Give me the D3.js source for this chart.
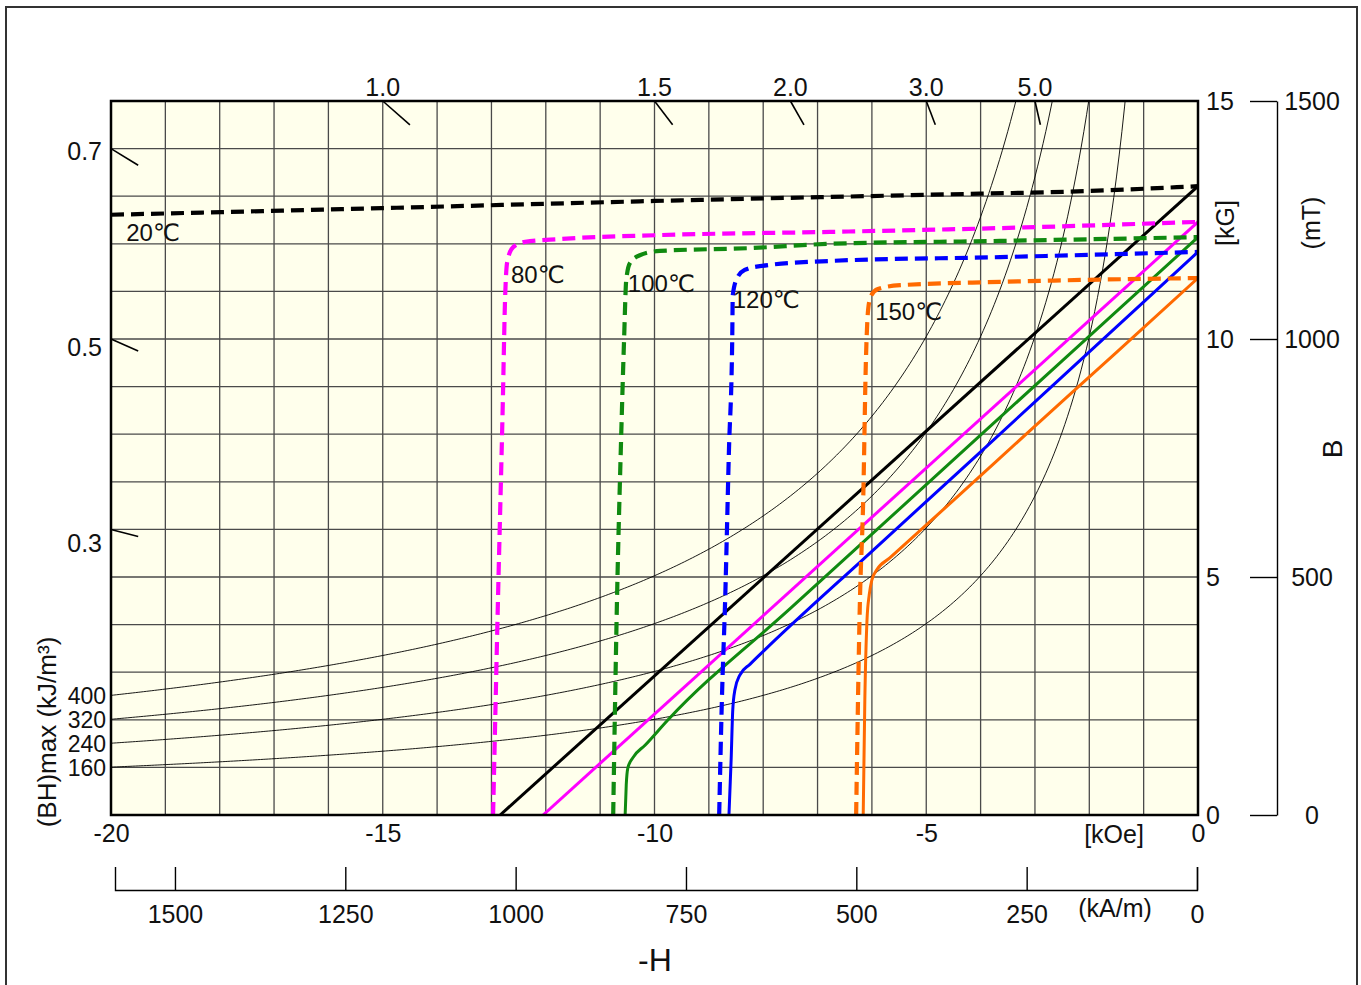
<!DOCTYPE html>
<html>
<head>
<meta charset="utf-8">
<script src="https://cdn.jsdelivr.net/npm/d3@7"></script>
<style>
body { margin: 0; background: #fff; }
text { font-family: "Liberation Sans", Arial, "DejaVu Sans", sans-serif; fill: #111; }
</style>
</head>
<body>
<svg id="chart" width="1361" height="985"></svg>
<script>
//demagnetization curves: [H (kOe), B (kG)]
var jCurve20 = [[-20, 12.61], [-15, 12.75], [-10, 12.90], [-5, 13.03], [-2, 13.11], [0, 13.21]];
var bCurve20 = [[-12.84, 0], [0, 13.21]];

var jCurve80 = [[-12.97, 0], [-12.88, 4.52], [-12.79, 8.72], [-12.75, 10.82], [-12.71, 11.62], [-12.60, 11.93],
    [-12.38, 12.04], [-11.74, 12.10], [-9.99, 12.18], [-6.77, 12.25], [-3.64, 12.33], [0, 12.46]];
var bCurve80 = [[-12.05, 0], [0, 12.46]];

var jCurve100 = [[-10.76, 0], [-10.69, 4.52], [-10.62, 7.67], [-10.56, 9.98], [-10.52, 11.24], [-10.45, 11.60],
    [-10.27, 11.76], [-9.90, 11.85], [-8.24, 11.91], [-6.77, 12.00], [-3.64, 12.06], [0, 12.14]];
var bCurve100 = [[-10.54, 0], [-10.52, 0.63], [-10.49, 0.99], [-10.40, 1.20], [-10.17, 1.47], [-9.75, 2.00],
    [-7.5, 4.34], [-5, 6.94], [-2.54, 9.50], [0, 12.14]];

var jCurve120 = [[-8.81, 0], [-8.76, 2.42], [-8.70, 4.52], [-8.63, 7.67], [-8.57, 9.98], [-8.56, 10.92], [-8.48, 11.28],
    [-8.34, 11.45], [-8.06, 11.53], [-6.77, 11.64], [-3.64, 11.72], [0, 11.83]];
var bCurve120 = [[-8.63, 0], [-8.59, 1.16], [-8.56, 2.21], [-8.52, 2.63], [-8.43, 2.94], [-8.24, 3.17], [-7.97, 3.47],
    [-6, 5.54], [-4, 7.63], [-2, 9.73], [0, 11.83]];

var jCurve150 = [[-6.29, 0], [-6.22, 4.52], [-6.16, 6.62], [-6.11, 9.56], [-6.07, 10.61], [-6.02, 10.90], [-5.89, 11.05],
    [-5.48, 11.13], [-3.64, 11.20], [0, 11.28]];
var bCurve150 = [[-6.16, 0], [-6.13, 2.42], [-6.09, 4.10], [-6.05, 4.62], [-6.00, 4.94], [-5.91, 5.15], [-5.67, 5.40],
    [-4.5, 6.61], [-3, 8.17], [-1.5, 9.72], [0, 11.28]];

var tempLabels = ["20℃", "80℃", "100℃", "120℃", "150℃"];
//where each temperature label starts [H, B]
var tempLabelAt = [[-19.72, 12.06], [-12.64, 11.18], [-10.49, 10.99], [-8.56, 10.65], [-5.94, 10.40]];

//(BH)max reference curves, kJ/m3
var bhValues = [160, 240, 320, 400];
//permeance coefficient ticks
var pcLeft = [0.7, 0.5, 0.3];
var pcTop = [1.0, 1.5, 2.0, 3.0, 5.0];

//axis tick values
var kOeTicks = [-20, -15, -10, -5, 0];
var kGTicks = [0, 5, 10, 15];
var mTTicks = [0, 500, 1000, 1500];
var kAmTicks = [1500, 1250, 1000, 750, 500, 250, 0];

var colors = ["#000000", "#ff00ff", "#108a10", "#0000ff", "#ff6a00"];
var jCurves = [jCurve20, jCurve80, jCurve100, jCurve120, jCurve150];
var bCurves = [bCurve20, bCurve80, bCurve100, bCurve120, bCurve150];

var svg = d3.select("#chart");
var fs = "25px";

//outer frame
svg.append("rect")
    .attr("x", 6).attr("y", 7).attr("width", 1351).attr("height", 1000)
    .attr("fill", "none").attr("stroke", "#333").attr("stroke-width", 2);

var x = d3.scaleLinear().domain([-20, 0]).range([111, 1198]);
var y = d3.scaleLinear().domain([0, 15]).range([815, 101]);
var yT = d3.scaleLinear().domain([0, 1500]).range([815, 101]);
var xA = d3.scaleLinear().domain([1588, 0]).range([115, 1197]);

svg.append("defs").append("clipPath").attr("id", "plotClip")
    .append("rect")
    .attr("x", x(-20)).attr("y", y(15))
    .attr("width", x(0) - x(-20)).attr("height", y(0) - y(15));

//background
svg.append("rect")
    .attr("x", x(-20)).attr("y", y(15))
    .attr("width", x(0) - x(-20)).attr("height", y(0) - y(15))
    .attr("fill", "#ffffec");

//grid
var grid = svg.append("g").attr("class", "grid");
grid.selectAll(".v").data(d3.range(-19, 0)).enter().append("line")
    .attr("x1", function(d) { return x(d); }).attr("x2", function(d) { return x(d); })
    .attr("y1", y(0)).attr("y2", y(15))
    .attr("stroke", "#4a4a4a").attr("stroke-width", 1.3);
grid.selectAll(".h").data(d3.range(1, 15)).enter().append("line")
    .attr("y1", function(d) { return y(d); }).attr("y2", function(d) { return y(d); })
    .attr("x1", x(-20)).attr("x2", x(0))
    .attr("stroke", "#4a4a4a").attr("stroke-width", 1.3);

var plot = svg.append("g").attr("clip-path", "url(#plotClip)");

//(BH)max hyperbolas: B*H = const (MGOe = kJ/m3 / 7.9577)
var hSamples = d3.range(-20, -0.9, 0.05);
var hyper = d3.line()
    .x(function(d) { return x(d[0]); })
    .y(function(d) { return y(d[1]); });
plot.selectAll(".bh").data(bhValues).enter().append("path")
    .attr("fill", "none").attr("stroke", "#000").attr("stroke-width", 0.9)
    .attr("d", function(v) {
        var mgoe = v / 7.9577;
        return hyper(hSamples.map(function(h) { return [h, mgoe / -h]; }));
    });

var curve = d3.line()
    .x(function(d) { return x(d[0]); })
    .y(function(d) { return y(d[1]); })
    .curve(d3.curveMonotoneX);

//normal (B) curves, solid
plot.selectAll(".bcurve").data(bCurves).enter().append("path")
    .attr("fill", "none")
    .attr("stroke", function(d, i) { return colors[i]; })
    .attr("stroke-width", 3)
    .attr("d", curve);

//intrinsic (J) curves, dashed
plot.selectAll(".jcurve").data(jCurves).enter().append("path")
    .attr("fill", "none")
    .attr("stroke", function(d, i) { return colors[i]; })
    .attr("stroke-width", 4.2)
    .attr("stroke-dasharray", "13,7")
    .attr("d", curve);

//plot border
svg.append("rect")
    .attr("x", x(-20)).attr("y", y(15))
    .attr("width", x(0) - x(-20)).attr("height", y(0) - y(15))
    .attr("fill", "none").attr("stroke", "#000").attr("stroke-width", 2.5);

//temperature labels
svg.selectAll(".tlabel").data(tempLabels).enter().append("text")
    .attr("x", function(d, i) { return x(tempLabelAt[i][0]); })
    .attr("y", function(d, i) { return y(tempLabelAt[i][1]); })
    .style("font-size", "24px")
    .text(function(d) { return d; });

//permeance ticks along load lines toward origin
svg.selectAll(".pcl").data(pcLeft).enter().append("line")
    .attr("x1", x(-20)).attr("y1", function(d) { return y(20 * d); })
    .attr("x2", x(-19.5)).attr("y2", function(d) { return y(19.5 * d); })
    .attr("stroke", "#000").attr("stroke-width", 1.6);
svg.selectAll(".pclt").data(pcLeft).enter().append("text")
    .attr("x", 102).attr("y", function(d) { return y(20 * d) + 11 + (0.7 - d) * 30; })
    .attr("text-anchor", "end").style("font-size", fs)
    .text(function(d) { return d.toFixed(1); });

svg.selectAll(".pct").data(pcTop).enter().append("line")
    .attr("x1", function(d) { return x(-15 / d); }).attr("y1", y(15))
    .attr("x2", function(d) { return x(-14.5 / d); }).attr("y2", y(14.5))
    .attr("stroke", "#000").attr("stroke-width", 1.6);
svg.selectAll(".pctt").data(pcTop).enter().append("text")
    .attr("x", function(d) { return x(-15 / d); }).attr("y", 96)
    .attr("text-anchor", "middle").style("font-size", fs)
    .text(function(d) { return d.toFixed(1); });

//(BH)max labels on the left
svg.selectAll(".bhl").data(bhValues).enter().append("text")
    .attr("x", 106).attr("y", function(d) { return y(d / 7.9577 / 20) + 9; })
    .attr("text-anchor", "end").style("font-size", "23px")
    .text(function(d) { return d; });

//H axis in kOe
var kOeAxis = svg.append("g")
    .attr("transform", "translate(0," + y(0) + ")")
    .call(d3.axisBottom(x).tickValues(kOeTicks).tickSize(0).tickPadding(9)
        .tickFormat(function(d) { return d; }));
kOeAxis.select(".domain").remove();
kOeAxis.selectAll("text").style("font-size", fs).attr("font-family", null).attr("fill", null);

//B axis in kG
var kGAxis = svg.append("g")
    .attr("transform", "translate(" + x(0) + ",0)")
    .call(d3.axisRight(y).tickValues(kGTicks).tickSize(0).tickPadding(8).tickFormat(d3.format("d")));
kGAxis.select(".domain").remove();
kGAxis.selectAll("text").style("font-size", fs).attr("font-family", null).attr("fill", null);

//B axis in mT
var mTAxis = svg.append("g")
    .attr("transform", "translate(1277,0)")
    .call(d3.axisRight(yT).tickValues(mTTicks).tickSize(-27).tickSizeOuter(0).tickPadding(35)
        .tickFormat(d3.format("d")));
mTAxis.selectAll("line, path").attr("stroke", "#000").attr("stroke-width", 1.4);
mTAxis.selectAll("text").style("font-size", fs).attr("text-anchor", "middle")
    .attr("font-family", null).attr("fill", null);

//H axis in kA/m
var kAmAxis = svg.append("g")
    .attr("transform", "translate(0,890)")
    .call(d3.axisBottom(xA).tickValues(kAmTicks).tickSize(-23).tickSizeOuter(-23).tickPadding(15)
        .tickFormat(d3.format("d")));
kAmAxis.selectAll("line, path").attr("stroke", "#000").attr("stroke-width", 1.4);
kAmAxis.selectAll("text").style("font-size", fs).attr("font-family", null).attr("fill", null);

//unit and axis titles
svg.append("text").attr("x", 1114).attr("y", 843).attr("text-anchor", "middle")
    .style("font-size", fs).text("[kOe]");
svg.append("text").attr("x", 1115).attr("y", 917).attr("text-anchor", "middle")
    .style("font-size", fs).text("(kA/m)");
svg.append("text").attr("x", 655).attr("y", 971).attr("text-anchor", "middle")
    .style("font-size", "32px").text("-H");
svg.append("text").attr("transform", "translate(1234,223) rotate(-90)").attr("text-anchor", "middle")
    .style("font-size", fs).text("[kG]");
svg.append("text").attr("transform", "translate(1320,223) rotate(-90)").attr("text-anchor", "middle")
    .style("font-size", fs).text("(mT)");
svg.append("text").attr("transform", "translate(1342,449) rotate(-90)").attr("text-anchor", "middle")
    .style("font-size", "28px").text("B");
svg.append("text").attr("transform", "translate(56,732) rotate(-90)").attr("text-anchor", "middle")
    .style("font-size", "26px").text("(BH)max (kJ/m³)");
</script>
</body>
</html>
